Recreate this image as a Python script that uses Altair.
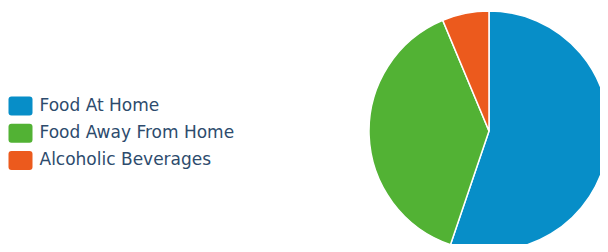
import altair as alt
import pandas as pd

categories = ["Food At Home", "Food Away From Home", "Alcoholic Beverages"]
shares = [55.2, 38.5, 6.3]
colors = ["#078ec8", "#52b234", "#ec5a1d"]

df = pd.DataFrame({"category": categories, "share": shares, "order": list(range(len(categories)))})

rounded = ("M-0.75,-0.79 L0.75,-0.79 Q1,-0.79 1,-0.54 L1,0.54 Q1,0.79 0.75,0.79 "
           "L-0.75,0.79 Q-1,0.79 -1,0.54 L-1,-0.54 Q-1,-0.79 -0.75,-0.79 Z")

chart = alt.Chart(df).mark_arc(outerRadius=120, stroke="white", strokeWidth=1.5).encode(
    theta=alt.Theta("share:Q", stack=True),
    order=alt.Order("order:Q"),
    x=alt.value(481),
    y=alt.value(123),
    color=alt.Color(
        "category:N",
        sort=categories,
        scale=alt.Scale(domain=categories, range=colors),
        legend=alt.Legend(
            title=None,
            orient="none",
            legendX=0.5,
            legendY=86,
            symbolType=rounded,
            symbolSize=576,
            symbolStrokeWidth=0,
            symbolOpacity=1,
            labelFont="DejaVu Sans",
            labelFontSize=17,
            labelColor="#2d4b6d",
            labelOffset=7,
            labelLimit=400,
            rowPadding=5.2,
            padding=0,
        ),
    ),
).properties(
    width=592, height=236, padding=0,
    autosize=alt.AutoSizeParams(type="none"),
).configure_view(stroke=None)

chart.save("out.html", embed_options={"renderer": "svg", "actions": False})
